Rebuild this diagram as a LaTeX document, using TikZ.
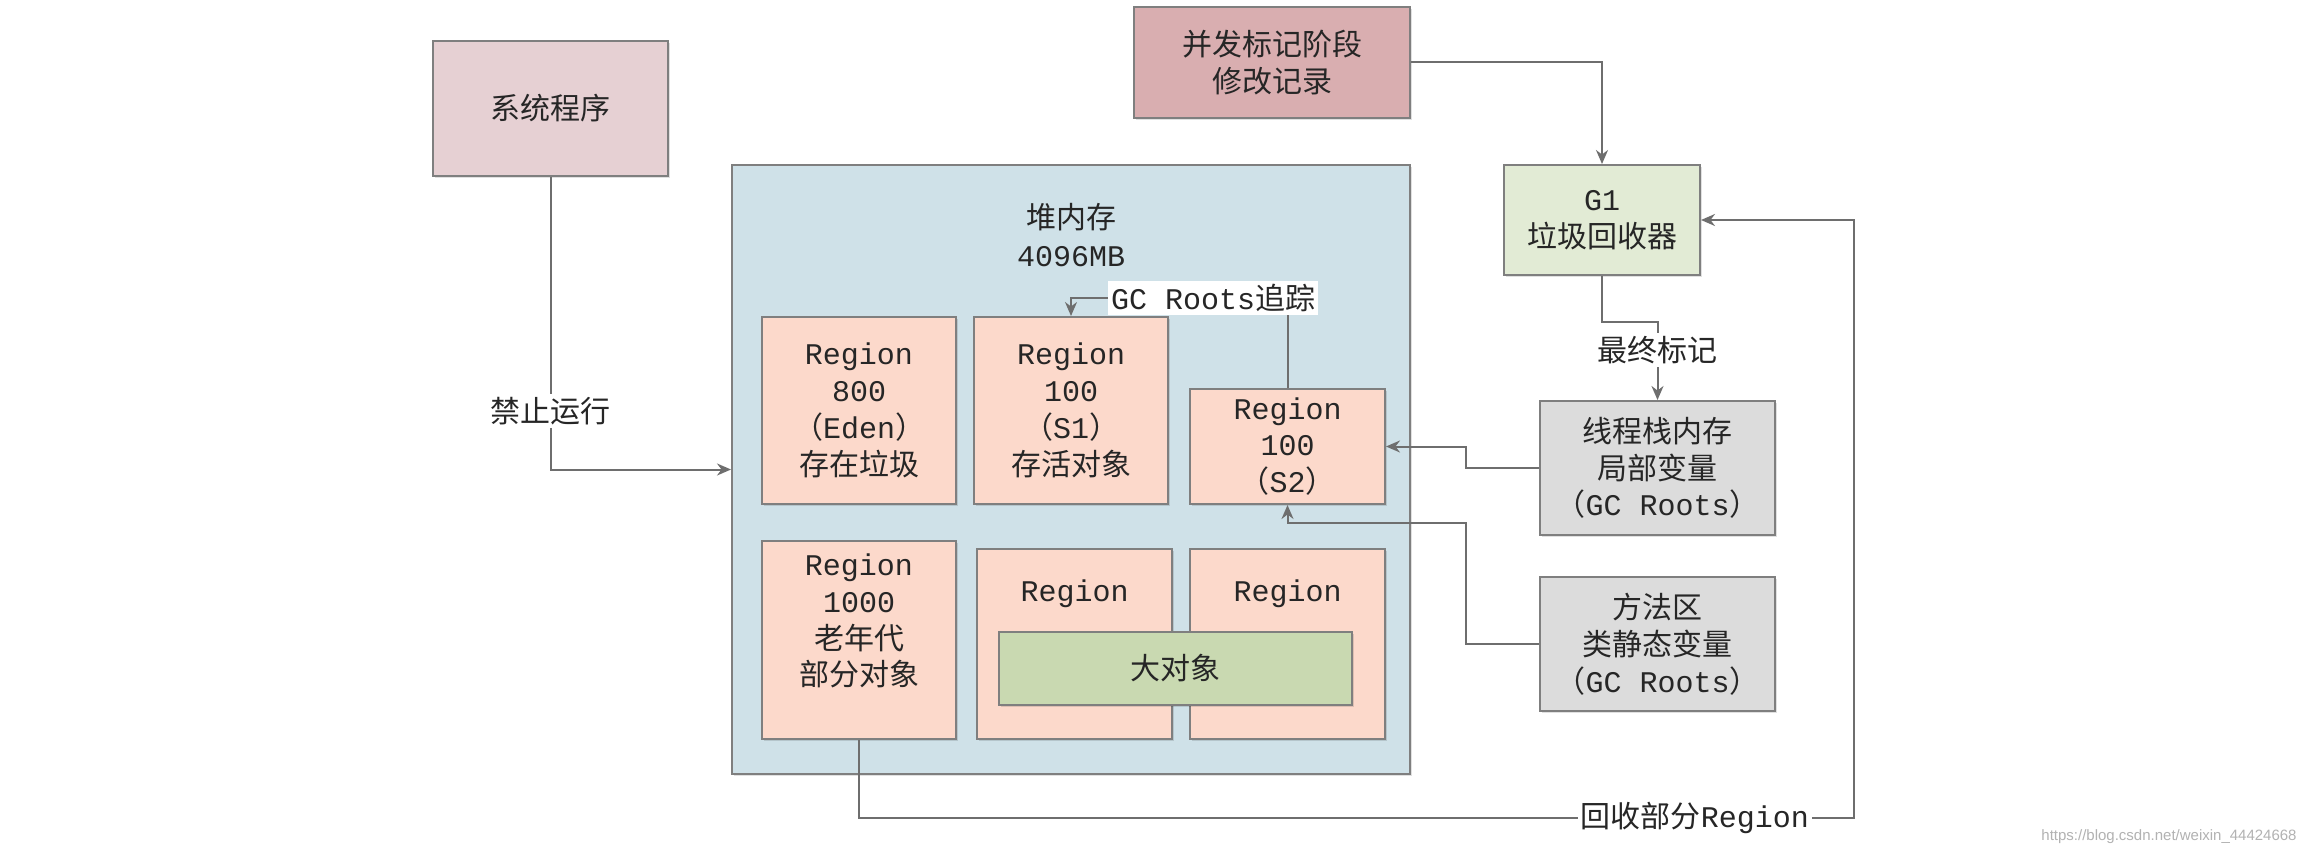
\documentclass[tikz,border=0pt]{standalone}
\usepackage{fontspec}
\setmainfont{Liberation Mono}
\newfontfamily\cjk{Noto Sans CJK SC}
\newfontfamily\wmfont{Liberation Sans}
\newcommand\zh[1]{{\cjk #1}}
\usetikzlibrary{arrows.meta,shadows,calc}
\definecolor{bordc}{HTML}{7F7F7F}
\definecolor{linec}{HTML}{6E6E6E}
\definecolor{textc}{HTML}{262626}
\definecolor{sysc}{HTML}{E6D0D3}
\definecolor{concc}{HTML}{D9AEB0}
\definecolor{heapc}{HTML}{CFE1E8}
\definecolor{regc}{HTML}{FCD9CB}
\definecolor{bigc}{HTML}{C9D9B1}
\definecolor{gonec}{HTML}{E2EBD5}
\definecolor{grayc}{HTML}{DCDCDC}
\begin{document}
\begin{tikzpicture}[x=0.5pt,y=-0.5pt,
  txt/.style={align=center, font=\fontsize{15}{18.4}\selectfont, text=textc},
  box/.style={txt, draw=bordc, line width=1pt, rectangle, inner sep=0pt,
    drop shadow={shadow xshift=1.2pt, shadow yshift=-1.2pt, fill=black, opacity=0.12}},
  lbl/.style={txt, fill=white, inner sep=1.5pt},
  conn/.style={draw=linec, line width=1pt, -{Stealth[length=7pt,width=6pt]}},
  plain/.style={draw=linec, line width=1pt}]
\useasboundingbox (0,0) rectangle (2304,856);
\fill[white] (0,0) rectangle (2304,856);

% outer boxes
\node[box, fill=sysc, minimum width=117.5pt, minimum height=67.5pt] (sys) at (550.5,108.5) {\zh{系统程序}};
\node[box, fill=concc, minimum width=138pt, minimum height=55.5pt] (conc) at (1272,62.5) {\zh{并发标记阶段}\\\zh{修改记录}};
\node[box, fill=heapc, minimum width=339pt, minimum height=304.5pt,
  label={[txt, anchor=center, yshift=-35.5pt, font=\fontsize{15}{19}\selectfont]north:{\zh{堆内存}\\4096MB}}] (heap) at (1071,469.5) {};
\node[box, fill=gonec, minimum width=98pt, minimum height=55pt] (g1) at (1602,220) {G1\\\zh{垃圾回收器}};
\node[box, fill=grayc, minimum width=117.5pt, minimum height=67pt] (stack) at (1657.5,468) {\zh{线程栈内存}\\\zh{局部变量}\\\zh{（}GC Roots\zh{）}};
\node[box, fill=grayc, minimum width=117.5pt, minimum height=67pt] (method) at (1657.5,644) {\zh{方法区}\\\zh{类静态变量}\\\zh{（}GC Roots\zh{）}};

% regions
\node[box, fill=regc, minimum width=97pt, minimum height=93.5pt] (eden) at (859,410.5) {Region\\800\\\zh{（}Eden\zh{）}\\\zh{存在垃圾}};
\node[box, fill=regc, minimum width=97pt, minimum height=93.5pt] (s1) at (1071,410.5) {Region\\100\\\zh{（}S1\zh{）}\\\zh{存活对象}};
\node[box, fill=regc, minimum width=97.5pt, minimum height=57.5pt] (s2) at (1287.5,446.5) {Region\\100\\\zh{（}S2\zh{）}};
\node[box, fill=regc, minimum width=97pt, minimum height=99pt,
  label={[txt, anchor=center, yshift=9.5pt]center:{Region\\1000\\\zh{老年代}\\\zh{部分对象}}}] (old) at (859,640) {};
\node[box, fill=regc, minimum width=97.5pt, minimum height=95pt,
  label={[txt, anchor=center, yshift=-23pt]north:Region}] (rb1) at (1074.5,644) {};
\node[box, fill=regc, minimum width=97.5pt, minimum height=95pt,
  label={[txt, anchor=center, yshift=-23pt]north:Region}] (rb2) at (1287.5,644) {};
\node[box, fill=bigc, minimum width=176.5pt, minimum height=36.5pt] (big) at (1175.5,668.5) {\zh{大对象}};

% helper coordinates
\coordinate (c1) at (0,322);
\coordinate (k1) at (1466,0);
\coordinate (k2) at (0,523);
\coordinate (k3) at (1854,818);
\coordinate (k4) at (0,298);

% connectors
\draw[conn] (sys.south) |- node[lbl, pos=0.4]{\zh{禁止运行}} (heap.west);
\draw[conn] (conc.east) -| (g1.north);
\draw[conn] (g1.south) -- (g1.south |- c1) -| node[lbl, pos=0.68]{\zh{最终标记}} (stack.north);
\draw[conn] (stack.west) -- (stack.west -| k1) |- (s2.east);
\draw[conn] (method.west) -- (method.west -| k1) -- (k1 |- k2) -| (s2.south);
\draw[conn] (s2.north) -- (s2.north |- k4) -| node[lbl, pos=0.172]{GC Roots\zh{追踪}} (s1.north);
\draw[conn] (old.south) |- node[lbl, pos=0.92]{\zh{回收部分}Region} (k3) |- (g1.east);

% watermark
\node[font=\fontsize{7.5}{9}\selectfont\wmfont, text=black!30, anchor=east, inner sep=0pt] (wm) at (2297,837) {https://blog.csdn.net/weixin\_44424668};
\end{tikzpicture}
\end{document}
